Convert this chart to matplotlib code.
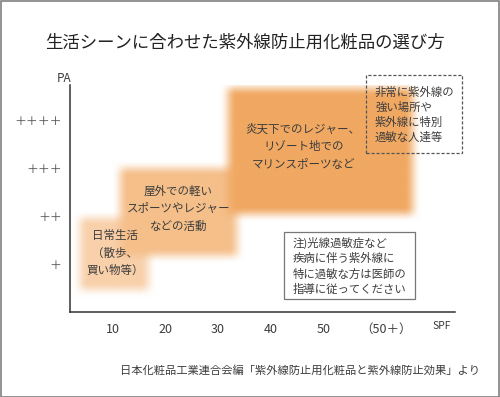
"""Choosing UV protection cosmetics by scene (SPF / PA chart)
"""
import numpy as np
import matplotlib
matplotlib.use("Agg")
import matplotlib.pyplot as plt
from matplotlib.patches import Rectangle

plt.rcParams['font.family'] = ['Noto Sans CJK JP', 'DejaVu Sans']

# -------
# Data
# -------
spf_ticks = [10, 20, 30, 40, 50, 62]
spf_labels = ["10", "20", "30", "40", "50", "（50＋）"]
pa_ticks = [1, 2, 3, 4]
pa_labels = ["＋", "＋＋", "＋＋＋", "＋＋＋＋"]

# scene ranges: spf (from, to), pa (from, to)
scene_labels = [
    "日常生活\n（散歩、\n買い物等）",
    "屋外での軽い\nスポーツやレジャー\nなどの活動",
    "炎天下でのレジャー、\nリゾート地での\nマリンスポーツなど",
]
scene_spf_lo = [3.7, 11.3, 31.9]
scene_spf_hi = [16.7, 33.6, 67.1]
scene_pa_lo = [0.46, 1.17, 2.04]
scene_pa_hi = [1.96, 3.0, 4.67]
scene_label_spf = [10.4, 22.4, 46.2]
scene_label_pa = [1.23, 2.15, 3.44]
scene_colors = ["#f8d0aa", "#f5bf8a", "#f0a862"]

title = "生活シーンに合わせた紫外線防止用化粧品の選び方"
note_high = "非常に紫外線の\n強い場所や\n紫外線に特別\n過敏な人達等"
note_doctor = "注)光線過敏症など\n疾病に伴う紫外線に\n特に過敏な方は医師の\n指導に従ってください"
source = "日本化粧品工業連合会編「紫外線防止用化粧品と紫外線防止効果」より"

W, H = 500, 397
TXT = "#3c3c3c"


def fx(x):
    return x / W


def fy(y):
    return 1 - y / H


fig = plt.figure(figsize=(W / 100, H / 100), dpi=100)
fig.patch.set_facecolor("white")

# outer frame
fig.patches.append(Rectangle((0.001, 0.001), 0.997, 0.996, transform=fig.transFigure,
                             fill=False, edgecolor="#808080", linewidth=1.2))

ax = fig.add_axes([fx(70), fy(312), fx(455) - fx(70), fy(85) - fy(312)])
xmin, xmax = 1.8, 75.1
ymin, ymax = 0.0, 4.73
ax.set_xlim(xmin, xmax)
ax.set_ylim(ymin, ymax)

# ----------
# Soft boxes
# ----------
nx, ny = 800, 400
xs = np.linspace(xmin, xmax, nx)
ys = np.linspace(ymin, ymax, ny)
XX, YY = np.meshgrid(xs, ys)
img = np.ones((ny, nx, 3))
soft_x, soft_y = 3.2, 0.32


def ramp(d, w):
    t = np.clip(d / w + 0.5, 0, 1)
    return t * t * (3 - 2 * t)


for x0, x1, y0, y1, col in zip(scene_spf_lo, scene_spf_hi, scene_pa_lo, scene_pa_hi, scene_colors):
    a = ramp(XX - x0, soft_x) * ramp(x1 - XX, soft_x) * ramp(YY - y0, soft_y) * ramp(y1 - YY, soft_y)
    rgb = np.array(matplotlib.colors.to_rgb(col))
    img = img * (1 - a[..., None]) + rgb * a[..., None]

ax.imshow(img, extent=(xmin, xmax, ymin, ymax), origin="lower", aspect="auto",
          interpolation="bilinear", zorder=0)

for lab, lx, ly in zip(scene_labels, scene_label_spf, scene_label_pa):
    ax.text(lx, ly, lab, ha="center", va="center",
            multialignment="center", fontsize=8.3, color=TXT, linespacing=1.45, zorder=3)

# -------
# Axis
# -------
for s in ["top", "right"]:
    ax.spines[s].set_visible(False)
for s in ["left", "bottom"]:
    ax.spines[s].set_color("#333333")
    ax.spines[s].set_linewidth(1.1)

ax.set_xticks(spf_ticks)
ax.set_xticklabels(spf_labels, fontsize=9, color=TXT)
ax.set_yticks(pa_ticks)
ax.set_yticklabels(pa_labels, fontsize=8.6, color="#505050")
ax.tick_params(length=0)
ax.tick_params(axis="x", pad=8)
ax.tick_params(axis="y", pad=6)

fig.text(fx(64), fy(78), "PA", ha="center", va="center", fontsize=8.5, color=TXT)
fig.text(fx(442), fy(326), "SPF", ha="center", va="center", fontsize=7.5, color=TXT)

# -------
# Notes
# -------
fig.patches.append(Rectangle((fx(366), fy(153)), fx(462) - fx(366), fy(75) - fy(153),
                             transform=fig.transFigure, facecolor="none", edgecolor="#555555",
                             linewidth=0.9, linestyle=(0, (2.5, 1.5)), zorder=2))
fig.text(fx(375), fy(115), note_high, ha="left", va="center", fontsize=8.2,
         color=TXT, linespacing=1.45, zorder=3)

fig.patches.append(Rectangle((fx(284), fy(299)), fx(415) - fx(284), fy(232) - fy(299),
                             transform=fig.transFigure, facecolor="white", edgecolor="#777777",
                             linewidth=0.9, zorder=2))
fig.text(fx(293), fy(266), note_doctor, ha="left", va="center", fontsize=8.2,
         color=TXT, linespacing=1.45, zorder=3)

# -------
# Labels
# -------
fig.text(fx(245), fy(43), title, ha="center", va="center", fontsize=12.5, color="#222222")
fig.text(fx(480), fy(370), source, ha="right", va="center", fontsize=8.1, color=TXT)

plt.savefig("out.png", dpi=100)
plt.close()
